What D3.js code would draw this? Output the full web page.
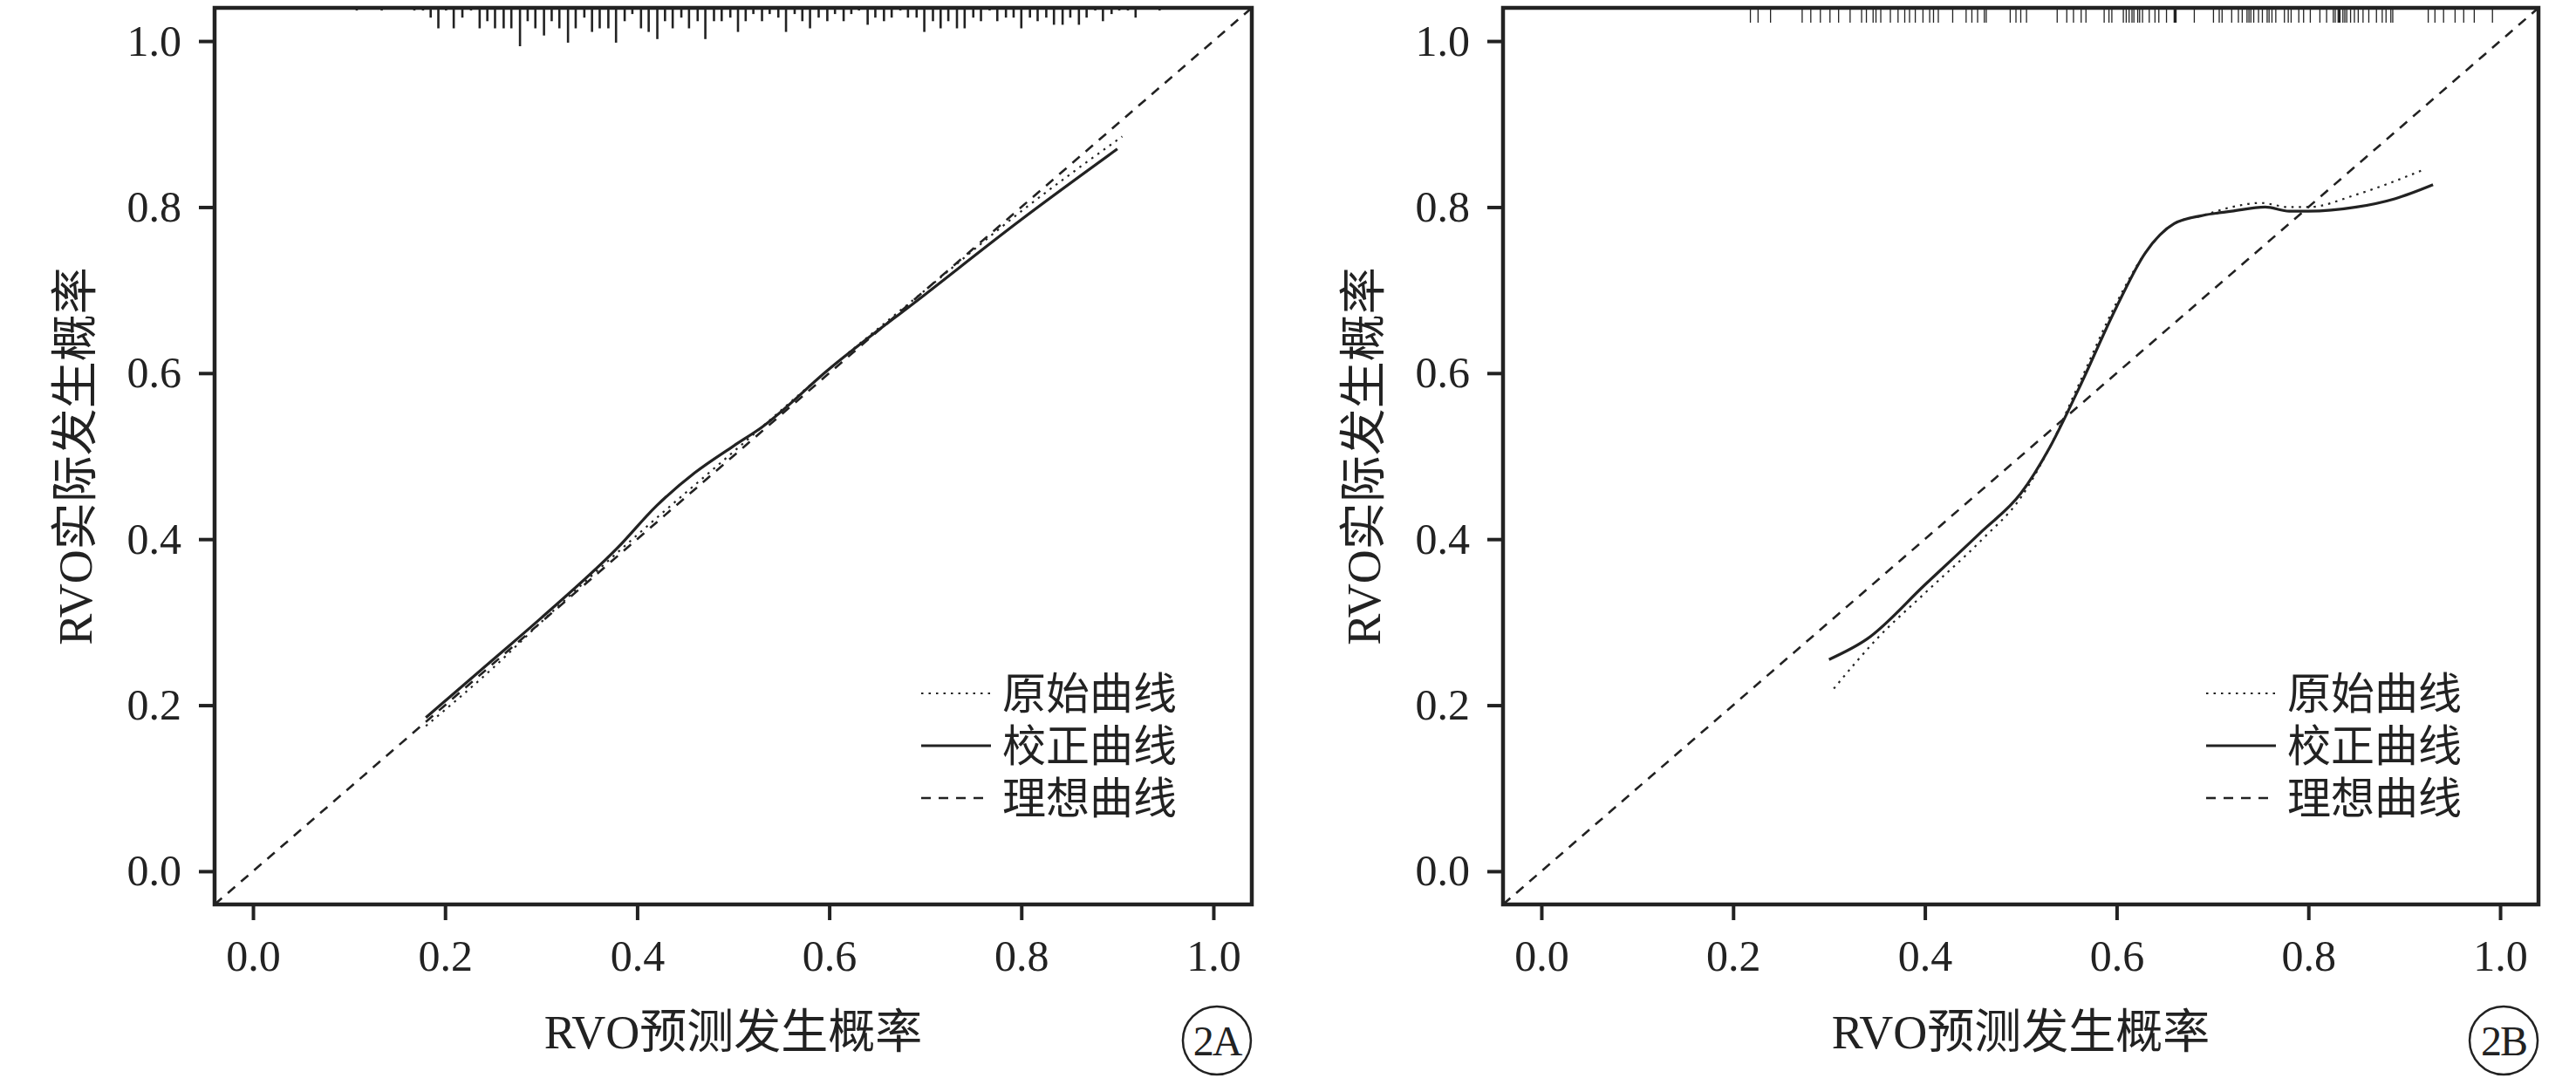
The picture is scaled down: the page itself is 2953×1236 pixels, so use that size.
<!DOCTYPE html>
<html><head><meta charset="utf-8">
<script src="https://cdn.jsdelivr.net/npm/d3@7"></script>
<style>body{margin:0;background:#fff}svg{display:block}</style>
</head><body>
<svg id="c" width="2953" height="1236"></svg>
<script>
const xTicks=[0,0.2,0.4,0.6,0.8,1.0];
const yTicks=[0,0.2,0.4,0.6,0.8,1.0];
const legendLabels=["原始曲线","校正曲线","理想曲线"];
const xTitle="RVO预测发生概率", yTitle="RVO实际发生概率";
// Panel A
const rugA=[0.108,0.134,0.168,0.177,0.185,0.193,0.201,0.209,0.218,0.227,0.236,0.244,0.252,0.261,0.269,0.278,0.286,0.294,0.303,0.311,0.319,0.328,0.336,0.345,0.353,0.361,0.370,0.378,0.387,0.395,0.404,0.412,0.421,0.429,0.437,0.446,0.454,0.463,0.471,0.480,0.488,0.497,0.505,0.513,0.521,0.530,0.538,0.547,0.555,0.564,0.572,0.580,0.589,0.598,0.606,0.615,0.623,0.631,0.640,0.648,0.657,0.665,0.674,0.682,0.691,0.699,0.708,0.716,0.724,0.733,0.741,0.750,0.758,0.767,0.775,0.784,0.792,0.800,0.809,0.817,0.826,0.834,0.843,0.851,0.860,0.868,0.877,0.885,0.894,0.902,0.911,0.919,0.944];
const rugCountA=[1,1,1,1,3,6,1,6,3,1,6,4,6,6,6,11,4,6,8,4,6,10,6,3,7,6,6,10,4,2,6,7,9,4,6,3,6,4,9,4,4,3,7,4,2,4,2,3,7,2,4,6,3,4,2,4,2,1,5,3,4,3,1,3,3,7,4,6,4,6,6,3,4,1,4,3,3,6,3,4,3,5,5,3,5,3,1,4,2,1,1,3,1];
const origA_x=[0.18,0.25,0.30,0.40,0.50,0.60,0.70,0.80,0.905];
const origA_y=[0.175,0.245,0.300,0.405,0.505,0.605,0.700,0.795,0.885];
const calA_x=[0.18,0.25,0.30,0.38,0.42,0.46,0.50,0.53,0.60,0.70,0.80,0.90];
const calA_y=[0.185,0.255,0.305,0.390,0.440,0.480,0.512,0.535,0.605,0.695,0.785,0.870];
// Panel B
const rugB=[0.218,0.226,0.239,0.272,0.281,0.291,0.301,0.310,0.322,0.334,0.339,0.346,0.349,0.354,0.364,0.372,0.379,0.384,0.390,0.398,0.405,0.409,0.414,0.429,0.443,0.449,0.455,0.462,0.464,0.489,0.495,0.500,0.506,0.538,0.548,0.555,0.563,0.568,0.587,0.592,0.595,0.607,0.610,0.613,0.616,0.618,0.622,0.624,0.627,0.634,0.640,0.644,0.652,0.660,0.661,0.662,0.681,0.701,0.707,0.710,0.720,0.727,0.731,0.736,0.738,0.740,0.743,0.748,0.752,0.757,0.759,0.762,0.766,0.775,0.779,0.782,0.790,0.795,0.802,0.812,0.819,0.826,0.828,0.831,0.832,0.833,0.836,0.838,0.840,0.844,0.848,0.852,0.857,0.863,0.871,0.877,0.881,0.886,0.888,0.925,0.932,0.941,0.953,0.962,0.973,0.992];
const origB_x=[0.305,0.35,0.40,0.46,0.50,0.53,0.56,0.60,0.63,0.66,0.69,0.72,0.75,0.78,0.80,0.85,0.92];
const origB_y=[0.220,0.280,0.335,0.400,0.450,0.510,0.585,0.685,0.745,0.780,0.790,0.800,0.805,0.800,0.800,0.815,0.845];
const calB_x=[0.30,0.34,0.40,0.46,0.50,0.53,0.56,0.60,0.63,0.66,0.69,0.72,0.755,0.78,0.80,0.85,0.89,0.93];
const calB_y=[0.255,0.280,0.345,0.410,0.455,0.510,0.580,0.680,0.745,0.780,0.790,0.795,0.800,0.795,0.795,0.800,0.810,0.827];

const svg=d3.select("#c");
const FONT="'Liberation Serif','Times New Roman',serif";
const CJK="'Liberation Serif','Noto Sans CJK SC',serif";
const dom=[-0.04,1.04];

function panel(o){
  const x=d3.scaleLinear().domain(dom).range([o.left,o.right]);
  const y=d3.scaleLinear().domain(dom).range([o.bottom,o.top]);
  const g=svg.append("g");
  const xa=g.append("g").attr("transform",`translate(0,${o.bottom})`)
    .call(d3.axisBottom(x).tickValues(xTicks).tickFormat(d3.format(".1f")).tickSize(18).tickPadding(22));
  const ya=g.append("g").attr("transform",`translate(${o.left},0)`)
    .call(d3.axisLeft(y).tickValues(yTicks).tickFormat(d3.format(".1f")).tickSize(18).tickPadding(20));
  [xa,ya].forEach(a=>{a.select(".domain").remove();
    a.selectAll("line").attr("stroke","#222").attr("stroke-width",4);
    a.selectAll("text").attr("font-family",FONT).attr("font-size",50).attr("fill","#222");});
  xa.selectAll("text").attr("dy","0.71em");
  g.append("rect").attr("x",o.left).attr("y",o.top).attr("width",o.right-o.left).attr("height",o.bottom-o.top)
    .attr("fill","none").attr("stroke","#222").attr("stroke-width",4.5);
  // rug
  const lenS=d3.scaleLinear().domain([1,11]).range([3,44]);
  g.selectAll(".rug").data(o.rug).join("line")
    .attr("x1",d=>x(d)).attr("x2",d=>x(d)).attr("y1",o.top)
    .attr("y2",(d,i)=>o.top+(o.rugCount?lenS(o.rugCount[i]):17))
    .attr("stroke","#222").attr("stroke-width",o.rugCount?2.6:1.3);
  const line=d3.line().x(d=>x(d[0])).y(d=>y(d[1])).curve(d3.curveMonotoneX);
  g.append("path").datum(dom.map(v=>[v,v])).attr("d",d3.line().x(d=>x(d[0])).y(d=>y(d[1])))
    .attr("fill","none").attr("stroke","#222").attr("stroke-width",2.6).attr("stroke-dasharray","11,9");
  g.append("path").datum(o.ox.map((v,i)=>[v,o.oy[i]])).attr("d",line)
    .attr("fill","none").attr("stroke","#222").attr("stroke-width",2.2).attr("stroke-dasharray","2.5,6");
  g.append("path").datum(o.cx.map((v,i)=>[v,o.cy[i]])).attr("d",line)
    .attr("fill","none").attr("stroke","#222").attr("stroke-width",3.2);
  // legend
  const dashes=["2.5,6",null,"11,9"], widths=[2.2,3.2,2.6];
  legendLabels.forEach((t,i)=>{
    const yy=o.legY+i*60;
    g.append("line").attr("x1",o.legX).attr("x2",o.legX+80).attr("y1",yy).attr("y2",yy)
      .attr("stroke","#222").attr("stroke-width",widths[i]).attr("stroke-dasharray",dashes[i]);
    g.append("text").attr("x",o.legX+93).attr("y",yy).attr("dy","0.36em")
      .attr("font-family",CJK).attr("font-size",50).attr("fill","#222").text(t);
  });
  g.append("text").attr("x",(x(0)+x(1))/2).attr("y",1183).attr("dy","0.35em").attr("text-anchor","middle")
    .attr("font-family",CJK).attr("font-size",54).attr("fill","#222").text(xTitle);
  g.append("text").attr("transform",`translate(${o.left-160},${(o.top+o.bottom)/2}) rotate(-90)`)
    .attr("dy","0.35em").attr("text-anchor","middle")
    .attr("font-family",CJK).attr("font-size",54).attr("fill","#222").text(yTitle);
  g.append("circle").attr("cx",x(1)+4).attr("cy",1193).attr("r",39).attr("fill","none").attr("stroke","#222").attr("stroke-width",2.5);
  g.append("text").attr("x",x(1)+4).attr("y",1193).attr("dy","0.35em").attr("text-anchor","middle")
    .attr("font-family",FONT).attr("font-size",48).attr("fill","#222").attr("letter-spacing",-2).text(o.tag);
}
panel({left:246,right:1435,top:9,bottom:1037,rug:rugA,rugCount:rugCountA,ox:origA_x,oy:origA_y,cx:calA_x,cy:calA_y,legX:1056,legY:795,tag:"2A"});
panel({left:1723,right:2910,top:9,bottom:1037,rug:rugB,rugCount:null,ox:origB_x,oy:origB_y,cx:calB_x,cy:calB_y,legX:2529,legY:795,tag:"2B"});
</script>
</body></html>
